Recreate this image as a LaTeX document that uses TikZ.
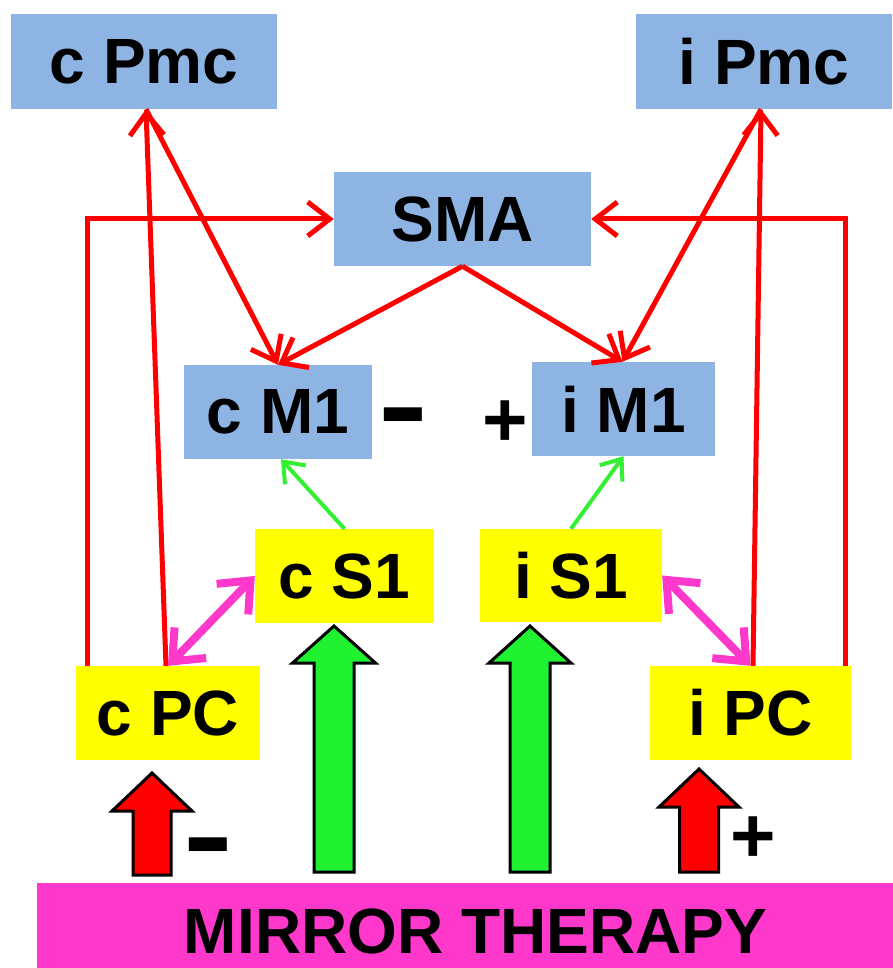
\documentclass[tikz,border=0pt]{standalone}
\usepackage{fontspec}
\setmainfont{Liberation Sans}
\usetikzlibrary{arrows.meta,calc}
\definecolor{boxblue}{HTML}{8EB4E3}
\definecolor{boxyellow}{HTML}{FFFF00}
\definecolor{mag}{HTML}{FF38CC}
\definecolor{fatgreen}{HTML}{20F232}
\definecolor{thingreen}{HTML}{33F033}
\definecolor{lred}{HTML}{FF0000}
\newcommand\fatarr[7]{\draw[fatarrow, fill=#1] (#2,#3) -- (#2+#6,#4) -- (#2+#7,#4) -- (#2+#7,#5) -- (#2-#7,#5) -- (#2-#7,#4) -- (#2-#6,#4) -- cycle;}
\begin{document}
\begin{tikzpicture}[x=1pt,y=-1pt,
  boxfont/.style={font=\fontsize{64}{64}\selectfont\bfseries},
  bluebox/.style={fill=boxblue, inner sep=0pt, boxfont},
  yellowbox/.style={fill=boxyellow, inner sep=0pt, boxfont},
  signfont/.style={inner sep=0pt, anchor=base},
  redarr/.style={draw=lred, line width=5pt, -{Straight Barb[length=22pt,width=34pt]}},
  redline/.style={draw=lred, line width=5pt},
  greenarr/.style={draw=thingreen, line width=4pt, -{Straight Barb[length=18pt,width=28pt]}},
  magarr/.style={draw=mag, line width=8pt, {Straight Barb[length=26pt,width=44pt]}-{Straight Barb[length=26pt,width=44pt]}},
  fatarrow/.style={draw=black, line width=3pt, line join=miter}
]
\useasboundingbox (0,0) rectangle (893,968);
% boxes
\node[bluebox, minimum width=266pt, minimum height=95pt] (cpmc) at (144,61.5) {c Pmc};
\node[bluebox, minimum width=256pt, minimum height=95pt] (ipmc) at (764,61.5) {i Pmc};
\node[bluebox, minimum width=257pt, minimum height=94pt] (sma) at (462.5,219) {SMA};
\node[bluebox, minimum width=188pt, minimum height=94pt] (cm1) at (278,412) {c M1};
\node[bluebox, minimum width=183pt, minimum height=94pt] (im1) at (623.5,409) {i M1};
\node[yellowbox, minimum width=179pt, minimum height=94pt] (cs1) at (344.5,576) {c S1};
\node[yellowbox, minimum width=182pt, minimum height=93pt] (is1) at (571,575.5) {i S1};
\node[yellowbox, minimum width=184pt, minimum height=94pt] (cpc) at (168,713) {c PC};
\node[yellowbox, minimum width=201pt, minimum height=94pt] (ipc) at (750.5,713) {i PC};
\node[fill=mag, inner sep=0pt, minimum width=856pt, minimum height=85pt] (mirror) at (465,925.5) {};
\node[boxfont, inner sep=0pt] (mirrortext) at (475.5,931) {MIRROR THERAPY};
% signs
\node[signfont, font=\fontsize{115}{115}\selectfont\bfseries] (minus1) at (403,444) {\scalebox{1.3}[1]{-}};
\node[signfont, font=\fontsize{78}{78}\selectfont\bfseries] (plus1) at (505,446) {+};
\node[signfont, font=\fontsize{115}{115}\selectfont\bfseries] (minus2) at (208,874) {\scalebox{1.3}[1]{-}};
\node[signfont, font=\fontsize{78}{78}\selectfont\bfseries] (plus2) at (753,862) {+};
% red connectors
\draw[redarr] ($(cpc.north west)+(12,0)$) |- (sma.west);
\draw[redarr] ($(ipc.north east)+(-6,0)$) |- (sma.east);
\draw[redarr] ($(cpc.north)+(-2,0)$) -- ($(cpmc.south)+(2,0)$);
\draw[redarr] ($(cpmc.south)+(2,0)$) -- (cm1.north);
\draw[redarr] ($(ipc.north)+(2.5,0)$) -- ($(ipmc.south)+(-3,0)$);
\draw[redarr] ($(ipmc.south)+(-3,0)$) -- ($(im1.north)+(-1,0)$);
\draw[redarr] (sma.south) -- (cm1.north);
\draw[redarr] (sma.south) -- ($(im1.north)+(-1,0)$);
% green thin
\draw[greenarr] (cs1.north) -- ($(cm1.south)+(3,0)$);
\draw[greenarr] (is1.north) -- (im1.south);
% magenta
\draw[magarr] (cpc.north) -- (cs1.west);
\draw[magarr] (is1.east) -- (ipc.north);
% fat arrows
\fatarr{fatgreen}{334}{626}{663}{872}{41.5}{20}
\fatarr{fatgreen}{530}{626}{663}{872}{41}{20}
\fatarr{lred}{152}{773}{811}{875}{40}{19}
\fatarr{lred}{699}{769}{807}{872}{40}{19.5}
\end{tikzpicture}
\end{document}
